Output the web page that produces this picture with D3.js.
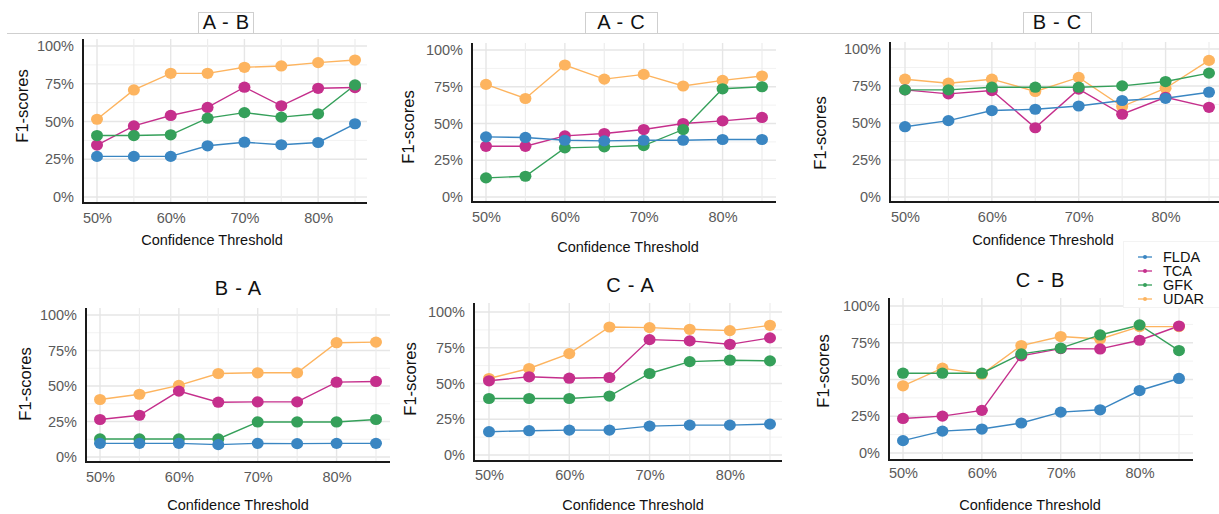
<!DOCTYPE html>
<html>
<head>
<meta charset="utf-8">
<script src="https://cdn.jsdelivr.net/npm/d3@7"></script>
<style>
  html, body { margin: 0; padding: 0; background: #fff; }
  svg { display: block; font-family: "Liberation Sans", Arial, Helvetica, sans-serif; }
</style>
</head>
<body>
<svg id="chart" width="1219" height="514"></svg>
<script>
// Confidence thresholds (in %) on the x axis
const thresholds = [50, 55, 60, 65, 70, 75, 80, 85];
const xTickValues = [50, 60, 70, 80];
const yTickValues = [0, 25, 50, 75, 100];

// Methods, in legend order, and their colours
const methods = ["FLDA", "TCA", "GFK", "UDAR"];
const methodColors = ["#3a86c2", "#c52f8c", "#35a05a", "#fdb45f"];

// F1-scores (%) per transfer direction; rows follow the methods array
const scoresAB = [
  [26.9, 26.9, 26.9, 33.9, 36.3, 34.6, 36.1, 48.5],
  [34.4, 47.1, 54.0, 59.3, 72.7, 60.4, 72.0, 72.5],
  [40.7, 40.7, 41.2, 52.2, 55.9, 52.9, 55.1, 74.2],
  [51.5, 70.9, 81.9, 81.9, 85.9, 86.8, 89.0, 90.7]
];
const scoresAC = [
  [40.9, 40.5, 38.6, 38.2, 38.6, 38.6, 39.1, 39.1],
  [34.5, 34.5, 41.6, 43.2, 45.9, 50.0, 51.8, 54.1],
  [13.0, 14.1, 33.4, 34.1, 35.0, 45.9, 73.6, 75.0],
  [76.6, 67.0, 89.8, 80.2, 83.4, 75.5, 79.3, 82.3]
];
const scoresBC = [
  [47.5, 51.6, 58.4, 59.3, 61.5, 65.2, 66.7, 70.8],
  [72.4, 69.7, 71.9, 46.8, 72.9, 55.9, 67.4, 60.6],
  [72.4, 72.4, 74.2, 74.2, 74.2, 75.1, 78.0, 83.7],
  [79.6, 76.9, 79.6, 71.3, 80.8, 61.1, 73.5, 92.3]
];
const scoresBA = [
  [9.6, 9.6, 9.6, 8.7, 9.6, 9.4, 9.6, 9.6],
  [26.4, 29.4, 46.4, 38.6, 38.8, 38.8, 52.7, 53.2],
  [12.7, 12.7, 12.7, 12.7, 24.7, 24.7, 24.7, 26.4],
  [40.5, 44.2, 50.4, 58.8, 59.3, 59.3, 80.5, 80.9]
];
const scoresCA = [
  [16.3, 17.0, 17.4, 17.4, 20.2, 20.9, 20.9, 21.6],
  [51.9, 54.7, 53.7, 54.2, 80.7, 79.8, 77.4, 81.9],
  [39.5, 39.5, 39.5, 41.2, 57.0, 65.3, 66.3, 65.8],
  [53.5, 60.5, 70.9, 89.5, 89.1, 87.9, 87.0, 90.7]
];
const scoresCB = [
  [8.4, 14.9, 16.3, 20.4, 27.8, 29.4, 42.5, 50.7],
  [23.5, 25.1, 29.0, 66.1, 71.0, 70.8, 76.7, 86.4],
  [54.3, 54.3, 54.3, 67.4, 71.3, 80.3, 87.1, 69.7],
  [45.7, 57.7, 53.6, 73.1, 79.2, 77.6, 86.0, 86.0]
];

const panelTitles = ["A - B", "A - C", "B - C", "B - A", "C - A", "C - B"];
const panelScores = [scoresAB, scoresAC, scoresBC, scoresBA, scoresCA, scoresCB];

// Panel geometry (pixels)
const panelLayout = [
  { ax: 83,  top: 39,  y100: 46,  y0: 197, bottom: 203, x50: 97,  x85: 355,  right: 367,  tickY: 218, xt: [212, 240], yt: [22, 106],  tab: true,  title: [226, 22], tabBox: [198, 12, 55, 21] },
  { ax: 472, top: 43,  y100: 50,  y0: 197, bottom: 202, x50: 486, x85: 762,  right: 776,  tickY: 217, xt: [628, 247], yt: [408, 127], tab: true,  title: [621, 22], tabBox: [585, 12, 72, 21] },
  { ax: 890, top: 42,  y100: 49,  y0: 197, bottom: 202, x50: 905, x85: 1209, right: 1219, tickY: 217, xt: [1043, 240], yt: [820, 133], tab: true, title: [1057, 22], tabBox: [1023, 12, 68, 21] },
  { ax: 86,  top: 308, y100: 315, y0: 457, bottom: 462, x50: 100, x85: 376,  right: 390,  tickY: 477, xt: [238, 505], yt: [25, 384],  tab: false, title: [238, 288] },
  { ax: 474, top: 303, y100: 312, y0: 455, bottom: 461, x50: 489, x85: 770,  right: 782,  tickY: 475, xt: [633, 505], yt: [410, 379], tab: false, title: [630, 285] },
  { ax: 889, top: 298, y100: 306, y0: 453, bottom: 460, x50: 903, x85: 1179, right: 1193, tickY: 473, xt: [1030, 505], yt: [823, 371], tab: false, title: [1040, 280] }
];

// Draw order: UDAR first, FLDA last (on top)
const drawOrder = [3, 1, 2, 0];

const svg = d3.select("#chart");

// Strip line behind the top row titles
svg.append("line")
  .attr("x1", 7).attr("x2", 1219)
  .attr("y1", 33.5).attr("y2", 33.5)
  .attr("stroke", "#cfcfcf").attr("stroke-width", 1);

panelLayout.forEach((L, i) => {
  const g = svg.append("g");
  const x = d3.scaleLinear().domain([50, 85]).range([L.x50, L.x85]);
  const y = d3.scaleLinear().domain([0, 100]).range([L.y0, L.y100]);

  // Grid
  const grid = g.append("g");
  const yMinor = [12.5, 37.5, 62.5, 87.5];
  grid.selectAll(".ymin").data(yMinor).join("line")
    .attr("x1", L.ax).attr("x2", L.right)
    .attr("y1", d => y(d)).attr("y2", d => y(d))
    .attr("stroke", "#f2f2f2").attr("stroke-width", 1);
  grid.selectAll(".ymaj").data(yTickValues).join("line")
    .attr("x1", L.ax).attr("x2", L.right)
    .attr("y1", d => y(d)).attr("y2", d => y(d))
    .attr("stroke", "#e6e6e6").attr("stroke-width", 1.4);
  grid.selectAll(".xg").data(thresholds).join("line")
    .attr("x1", d => x(d)).attr("x2", d => x(d))
    .attr("y1", L.top).attr("y2", L.bottom)
    .attr("stroke", d => (d % 10 === 0 ? "#e6e6e6" : "#ededed"))
    .attr("stroke-width", d => (d % 10 === 0 ? 1.4 : 1.2));

  // Axes (labels only; the axis lines are drawn below)
  const xAxis = d3.axisBottom(x).tickValues(xTickValues).tickSize(0)
    .tickPadding(L.tickY - L.bottom - 5).tickFormat(d => d + "%");
  const yAxis = d3.axisLeft(y).tickValues(yTickValues).tickSize(0)
    .tickPadding(9).tickFormat(d => d + "%");
  const gx = g.append("g").attr("transform", `translate(0,${L.bottom})`).call(xAxis);
  const gy = g.append("g").attr("transform", `translate(${L.ax},0)`).call(yAxis);
  [gx, gy].forEach(a => {
    a.select(".domain").remove();
    a.selectAll("text").attr("font-size", 14.5).attr("fill", "#5a5a5a")
      .attr("font-family", "\"Liberation Sans\", Arial, sans-serif");
  });

  // Axis lines
  g.append("line").attr("x1", L.ax).attr("x2", L.ax).attr("y1", L.top).attr("y2", L.bottom + 1)
    .attr("stroke", "#1a1a1a").attr("stroke-width", 2);
  g.append("line").attr("x1", L.ax - 1).attr("x2", L.right).attr("y1", L.bottom).attr("y2", L.bottom)
    .attr("stroke", "#1a1a1a").attr("stroke-width", 2);

  // Series
  const scores = panelScores[i];
  const line = d3.line().x((d, j) => x(thresholds[j])).y(d => y(d));
  drawOrder.forEach(m => {
    g.append("path").datum(scores[m])
      .attr("d", line).attr("fill", "none")
      .attr("stroke", methodColors[m]).attr("stroke-width", 1.4);
  });
  drawOrder.forEach(m => {
    g.selectAll(null).data(scores[m]).join("ellipse")
      .attr("cx", (d, j) => x(thresholds[j])).attr("cy", d => y(d))
      .attr("rx", 6).attr("ry", 5.6).attr("fill", methodColors[m]);
  });

  // Axis titles
  g.append("text").attr("x", L.xt[0]).attr("y", L.xt[1]).attr("dy", "0.35em")
    .attr("text-anchor", "middle").attr("font-size", 14.5).attr("fill", "#111")
    .text("Confidence Threshold");
  g.append("text").attr("transform", `translate(${L.yt[0]},${L.yt[1]}) rotate(-90)`)
    .attr("dy", "0.35em").attr("text-anchor", "middle").attr("font-size", 16.5).attr("fill", "#111")
    .text("F1-scores");

  // Panel title
  if (L.tab) {
    const b = L.tabBox;
    svg.append("rect").attr("x", b[0] + 0.5).attr("y", b[1] + 0.5)
      .attr("width", b[2]).attr("height", b[3])
      .attr("fill", "#fff").attr("stroke", "#cfcfcf").attr("stroke-width", 1);
  }
  svg.append("text").attr("x", L.title[0]).attr("y", L.title[1]).attr("dy", "0.36em")
    .attr("text-anchor", "middle").attr("font-size", 20).attr("fill", "#111")
    .attr("word-spacing", "1.5px")
    .text(panelTitles[i]);
});

// Legend
const legend = svg.append("g").attr("transform", "translate(1123,241)");
legend.append("rect").attr("x", 0.5).attr("y", 0.5).attr("width", 96).attr("height", 66)
  .attr("fill", "#fff").attr("stroke", "#f3f3f3");
methods.forEach((name, k) => {
  const row = legend.append("g").attr("transform", `translate(0,${16 + k * 14})`);
  row.append("line").attr("x1", 15).attr("x2", 29).attr("stroke", methodColors[k]).attr("stroke-width", 1.3);
  row.append("circle").attr("cx", 22).attr("r", 2).attr("fill", methodColors[k]);
  row.append("text").attr("x", 40).attr("dy", "0.36em").attr("font-size", 14.5)
    .attr("fill", "#111").text(name);
});
</script>
</body>
</html>
